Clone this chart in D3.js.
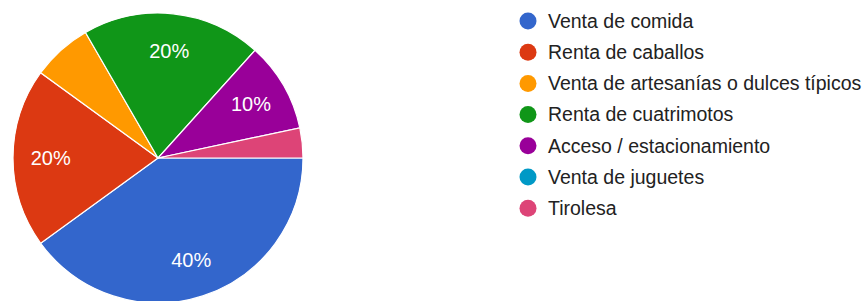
<!DOCTYPE html>
<html lang="es">
<head>
<meta charset="UTF-8">
<title>Pie</title>
<style>
  html, body { margin: 0; padding: 0; background: #fff; }
  body { font-family: "Liberation Sans", Arial, sans-serif; }
</style>
</head>
<body>
<div id="chart"></div>
<script src="https://d3js.org/d3.v7.min.js"></script>
<script>
  const categories = [
    "Venta de comida",
    "Renta de caballos",
    "Venta de artesanías o dulces típicos",
    "Renta de cuatrimotos",
    "Acceso / estacionamiento",
    "Venta de juguetes",
    "Tirolesa"
  ];
  const counts = [12, 6, 2, 6, 3, 0, 1];
  const colors = ["#3366cc", "#dc3912", "#ff9900", "#109618", "#990099", "#0099c6", "#dd4477"];

  const width = 867, height = 301;
  const cx = 158, cy = 158, radius = 145;

  const svg = d3.select("#chart").append("svg")
    .attr("width", width)
    .attr("height", height);

  const data = categories.map((c, i) => ({ name: c, value: counts[i], color: colors[i] }));
  const total = d3.sum(counts);

  // google-style: start at 3 o'clock, go clockwise
  const pie = d3.pie()
    .sort(null)
    .value(d => d.value)
    .startAngle(Math.PI / 2)
    .endAngle(Math.PI / 2 + 2 * Math.PI);

  const arc = d3.arc().innerRadius(0).outerRadius(radius);
  const labelArc = d3.arc().innerRadius(radius * 0.74).outerRadius(radius * 0.74);

  const g = svg.append("g").attr("transform", `translate(${cx},${cy})`);
  const arcs = pie(data).filter(d => d.data.value > 0);

  g.selectAll("path")
    .data(arcs)
    .enter()
    .append("path")
    .attr("d", arc)
    .attr("fill", d => d.data.color)
    .attr("stroke", "#fff")
    .attr("stroke-width", 1.2);

  g.selectAll("text")
    .data(arcs.filter(d => d.data.value / total > 0.08))
    .enter()
    .append("text")
    .attr("transform", d => `translate(${labelArc.centroid(d)})`)
    .attr("text-anchor", "middle")
    .attr("dy", "0.35em")
    .attr("fill", "#fff")
    .attr("font-size", 20)
    .text(d => Math.round(d.data.value / total * 100) + "%");

  // legend
  const legend = svg.append("g").attr("transform", "translate(528,21)");
  const row = legend.selectAll("g")
    .data(data)
    .enter()
    .append("g")
    .attr("transform", (d, i) => `translate(0,${i * 31.2})`);

  row.append("circle")
    .attr("r", 8.5)
    .attr("fill", d => d.color);

  row.append("text")
    .attr("x", 20)
    .attr("dy", "0.35em")
    .attr("font-size", 19.5)
    .attr("fill", "#222")
    .text(d => d.name);
</script>
</body>
</html>
